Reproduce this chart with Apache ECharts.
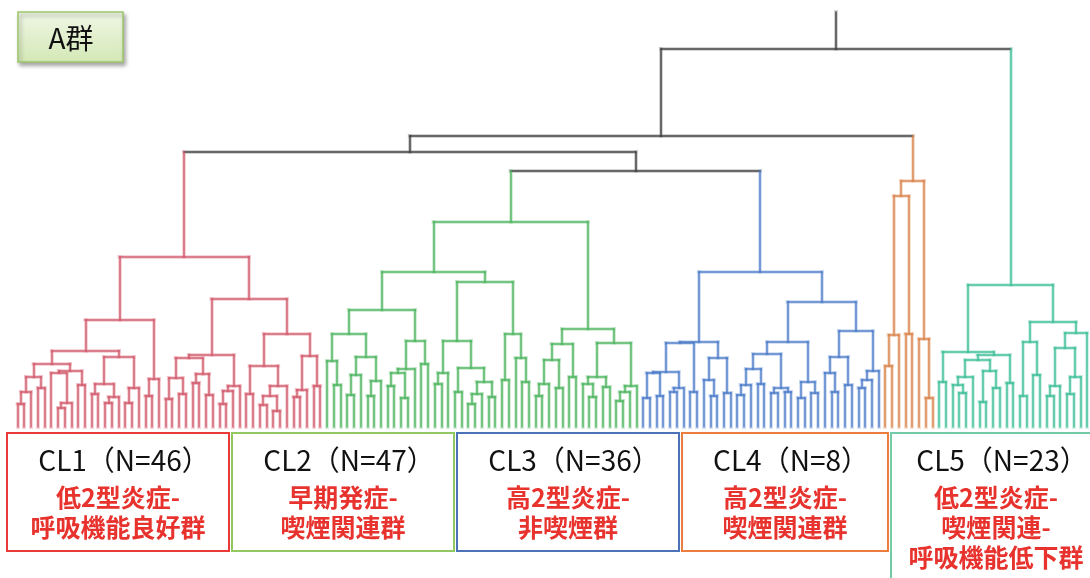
<!DOCTYPE html>
<html lang="ja">
<head>
<meta charset="UTF-8">
<title>A群 クラスター解析 デンドログラム</title>
<script src="https://cdn.jsdelivr.net/npm/echarts@6.0.0/dist/echarts.min.js"></script>
<style>
  html, body { margin: 0; padding: 0; background: #fff; }
  #dendrogram { width: 1090px; height: 578px; }
</style>
</head>
<body>
<div id="dendrogram"></div>
<script>
// 隣接するリーフ同士が結合する距離（左から順、クラスター内）
const cl1Gaps = [2.3, 3.5, 5.0, 3.9, 6.3, 5.4, 1.9, 2.4, 5.6, 4.2, 7.6, 3.3, 4.3, 2.4, 3.0, 7.0, 2.4, 3.9, 10.7, 3.1, 4.8, 17.0,
                 2.8, 4.9, 3.3, 6.9, 4.4, 5.3, 3.2, 7.2, 2.3, 3.6, 4.1, 12.8, 3.3, 6.1, 2.2, 3.1, 1.6, 4.1, 9.3, 3.0, 3.7, 7.1, 4.1];
const cl2Gaps = [6.6, 4.2, 9.3, 3.2, 5.2, 7.0, 3.1, 4.6, 11.7, 4.1, 5.4, 2.9, 5.8, 8.6, 6.3, 15.5, 4.3, 5.4, 8.6, 3.5, 5.9, 2.3, 3.3,
                 4.5, 3.0, 14.5, 4.7, 9.3, 6.9, 4.5, 20.5, 3.1, 4.3, 6.7, 3.9, 8.3, 5.0, 9.8, 4.3, 3.0, 5.0, 4.0, 8.4, 2.6, 3.5, 4.1];
const cl3Gaps = [2.9, 5.4, 3.1, 5.5, 3.5, 3.9, 8.4, 3.5, 8.5, 4.7, 3.1, 6.9, 3.4, 15.5, 3.2, 4.2, 5.8, 4.3, 7.3, 3.4, 3.9, 3.5,
                 8.5, 2.9, 4.5, 3.4, 12.5, 5.4, 3.5, 7.0, 4.2, 9.6, 3.9, 4.7, 5.6];
const cl4Gaps = [6.1, 9.2, 23.1, 9.3, 24.6, 8.8, 2.9];
const cl5Gaps = [4.5, 7.5, 4.2, 3.4, 5.0, 6.7, 2.5, 5.6, 3.9, 7.2, 4.4, 14.2, 3.1, 8.5, 5.2, 10.5, 3.1, 4.1, 7.9, 3.3, 5.0, 9.4];
// クラスター間の結合距離（CL1|CL2, CL2|CL3, CL3|CL4, CL4|CL5）
const betweenGaps = [27.5, 25.6, 29.1, 37.8];
const rootTop = 41.5;

const clusterSizes = [46, 47, 36, 8, 23];
const clusterTitles = ['CL1（N=46）', 'CL2（N=47）', 'CL3（N=36）', 'CL4（N=8）', 'CL5（N=23）'];
const clusterLabels = [
    ['低2型炎症-', '呼吸機能良好群'],
    ['早期発症-', '喫煙関連群'],
    ['高2型炎症-', '非喫煙群'],
    ['高2型炎症-', '喫煙関連群'],
    ['低2型炎症-', '喫煙関連-', '呼吸機能低下群']
];
const groupTitle = 'A群';

const linkColors = [
    { core: '#cf5b6d', halo: '#eaa3ae' },
    { core: '#4db45f', halo: '#a3d9ac' },
    { core: '#4c7bc6', halo: '#a7c0e8' },
    { core: '#d8834b', halo: '#eebd9b' },
    { core: '#3cbf98', halo: '#9fe0cb' }
];
const darkLink = { core: '#3c3c3c', halo: '#a0a0a0' };
const boxColors = ['#e83b35', '#92c862', '#4a73b8', '#ec7d3f', '#72caa6'];
const boxes = [[7, 222], [232, 222], [457, 222], [682, 206], [891, 210]];

class Dendrogram {
    constructor() { this.init(); }
    init() {
        const gaps = [].concat(cl1Gaps, [betweenGaps[0]], cl2Gaps, [betweenGaps[1]], cl3Gaps,
            [betweenGaps[2]], cl4Gaps, [betweenGaps[3]], cl5Gaps);
        const clusterOf = [];
        clusterSizes.forEach((n, c) => { for (let i = 0; i < n; i++) clusterOf.push(c); });
        this.root = this.build(gaps, clusterOf, 0, gaps.length);
        this.segs = [];
        this.walk(this.root, rootTop);
        this.draw();
    }
    build(gaps, clusterOf, lo, hi) {
        if (lo === hi) return { x: lo, h: 0, cl: clusterOf[lo], children: [] };
        let k = lo;
        for (let i = lo + 1; i < hi; i++) if (gaps[i] > gaps[k]) k = i;
        const l = this.build(gaps, clusterOf, lo, k);
        const r = this.build(gaps, clusterOf, k + 1, hi);
        return { x: (l.x + r.x) / 2, h: gaps[k], cl: l.cl === r.cl ? l.cl : -1, children: [l, r] };
    }
    walk(node, parentH) {
        this.segs.push({ cl: node.cl, coords: [[node.x, node.h], [node.x, parentH]] });
        if (!node.children.length) return;
        const [l, r] = node.children;
        this.segs.push({ cl: node.cl, coords: [[l.x, node.h], [r.x, node.h]] });
        this.walk(l, node.h);
        this.walk(r, node.h);
    }
    lineData(kind) {
        return this.segs.map(s => ({
            coords: s.coords,
            lineStyle: { color: (s.cl < 0 ? darkLink : linkColors[s.cl])[kind] }
        }));
    }
    graphics() {
        const font = '"Noto Sans CJK JP", "Noto Sans", sans-serif';
        const els = [{
            type: 'rect',
            shape: { x: 18, y: 12, width: 105, height: 50 },
            style: {
                fill: new echarts.graphic.LinearGradient(0, 0, 0, 1, [
                    { offset: 0, color: '#f0f7e6' }, { offset: 1, color: '#d3e8b5' }
                ]),
                stroke: '#9dc66b', lineWidth: 1.5,
                shadowBlur: 4, shadowOffsetX: 2, shadowOffsetY: 3, shadowColor: 'rgba(0,0,0,0.35)'
            }
        }, {
            type: 'text', x: 71, y: 38,
            style: { text: groupTitle, fill: '#111', font: `28px ${font}`, align: 'center', verticalAlign: 'middle' }
        }];
        boxes.forEach(([bx, bw], i) => {
            const bottom = i === 4 ? 600 : 551;
            els.push({
                type: 'rect',
                shape: { x: bx, y: 433, width: bw, height: bottom - 433 },
                style: { fill: 'none', stroke: boxColors[i], lineWidth: 2 }
            });
            const cx = bx + bw / 2;
            els.push({
                type: 'text', x: cx + 6, y: 460,
                style: { text: clusterTitles[i], fill: '#111', font: `28px ${font}`, align: 'center', verticalAlign: 'middle' }
            });
            clusterLabels[i].forEach((t, j) => {
                els.push({
                    type: 'text', x: cx, y: 497 + j * 30,
                    style: { text: t, fill: '#e8322d', font: `bold 25px ${font}`, align: 'center', verticalAlign: 'middle' }
                });
            });
        });
        return els;
    }
    draw() {
        const chart = echarts.init(document.getElementById('dendrogram'));
        chart.setOption({
            animation: false,
            grid: { left: 17.5, right: 3, top: 12, bottom: 151 },
            xAxis: { type: 'value', min: 0, max: 159, show: false },
            yAxis: { type: 'value', min: 0, max: rootTop, show: false },
            series: [
                { type: 'lines', coordinateSystem: 'cartesian2d', silent: true,
                  lineStyle: { width: 4, opacity: 0.45, cap: 'square' }, data: this.lineData('halo') },
                { type: 'lines', coordinateSystem: 'cartesian2d', silent: true,
                  lineStyle: { width: 1.5, opacity: 0.95, cap: 'square' }, data: this.lineData('core') }
            ],
            graphic: this.graphics()
        });
    }
}
document.addEventListener('DOMContentLoaded', () => {
    window.dendrogram = new Dendrogram();
});
</script>
</body>
</html>
